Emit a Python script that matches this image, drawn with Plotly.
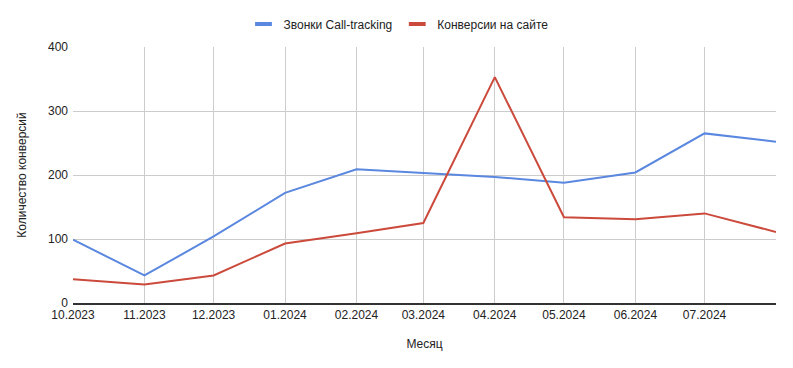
import plotly.graph_objects as go

months = ["2023-10-01", "2023-11-01", "2023-12-01", "2024-01-01", "2024-02-01",
          "2024-03-01", "2024-04-01", "2024-05-01", "2024-06-01", "2024-07-01",
          "2024-08-01"]
tick_labels = ["10.2023", "11.2023", "12.2023", "01.2024", "02.2024", "03.2024",
               "04.2024", "05.2024", "06.2024", "07.2024", ""]
calls = [99, 43, 104, 172, 209, 203, 197, 188, 204, 265, 252]
site_conv = [37, 29, 43, 93, 109, 125, 353, 134, 131, 140, 111]

series_names = ["Звонки Call-tracking", "Конверсии на сайте"]
colors = ["#5a87df", "#cb4a3c"]

fig = go.Figure()
for name, vals, col in zip(series_names, [calls, site_conv], colors):
    fig.add_trace(go.Scatter(x=months, y=vals, mode="lines", name=name,
                             line=dict(color=col, width=2), showlegend=False))
    fig.add_trace(go.Scatter(x=[None], y=[None], mode="markers", name=name,
                             marker=dict(symbol="line-ew", size=12, color=col,
                                         line=dict(color=col, width=4)),
                             showlegend=True))

fig.update_layout(
    width=793, height=368,
    margin=dict(l=73, r=17, t=47, b=65, autoexpand=False),
    paper_bgcolor="white", plot_bgcolor="white",
    font=dict(family="Liberation Sans, Arial, sans-serif", size=12, color="#222222"),
    legend=dict(orientation="h", x=0.463, xanchor="center", y=1.09, yanchor="middle",
                itemwidth=30, font=dict(size=12, color="#222222"),
                tracegroupgap=0),
    showlegend=True,
)

fig.update_xaxes(
    type="date", range=[months[0], months[-1]],
    tickmode="array", tickvals=months, ticktext=tick_labels,
    showgrid=True, gridcolor="#cccccc", gridwidth=1,
    showline=True, linecolor="#333333", linewidth=1.5,
    ticks="", zeroline=False,
    title=dict(text="Месяц", font=dict(size=12, color="#222222"), standoff=18),
    tickfont=dict(size=12, color="#222222"),
)
fig.update_yaxes(
    range=[0, 400], dtick=100, tick0=0,
    showgrid=True, gridcolor="#cccccc", gridwidth=1,
    showline=False, zeroline=False, ticks="", ticklabelstandoff=4,
    title=dict(text="Количество конверсий", font=dict(size=12, color="#222222"), standoff=18),
    tickfont=dict(size=12, color="#222222"),
)

fig.write_html("out.html")
